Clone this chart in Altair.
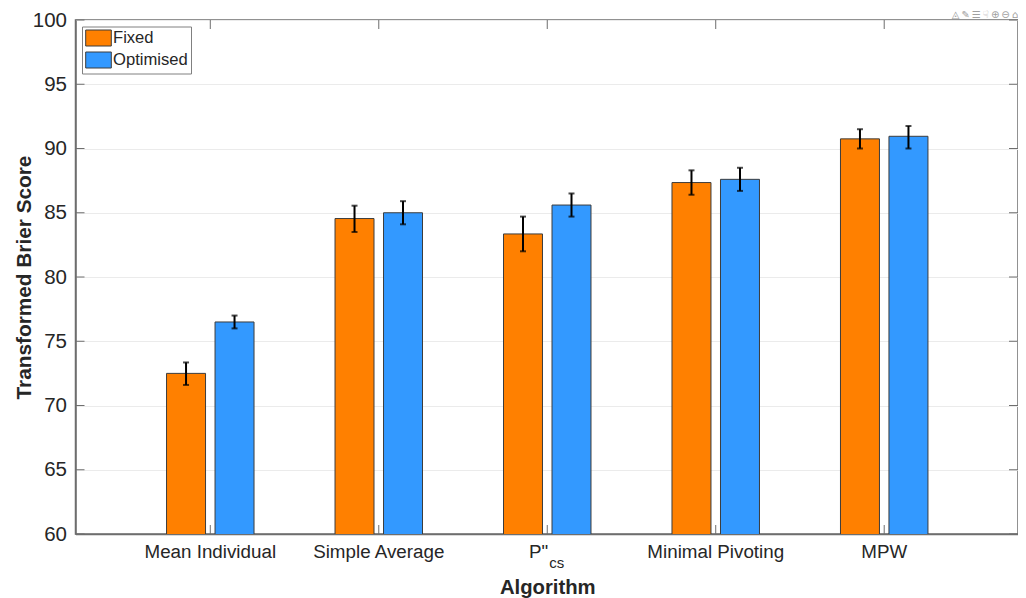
import altair as alt
import pandas as pd

categories = ["Mean Individual", "Simple Average", 'P"cs', "Minimal Pivoting", "MPW"]
series = ["Fixed", "Optimised"]
fixed = [72.5, 84.55, 83.35, 87.35, 90.75]
optimised = [76.5, 85.0, 85.6, 87.6, 90.95]
fixed_low = [71.6, 83.5, 82.0, 86.4, 90.0]
fixed_high = [73.35, 85.55, 84.7, 88.3, 91.5]
opt_low = [76.0, 84.1, 84.7, 86.7, 90.0]
opt_high = [77.0, 85.9, 86.5, 88.5, 91.75]
y_ticks = [60, 65, 70, 75, 80, 85, 90, 95, 100]
toolbar = "◬\u2009✎\u2009☰\u2009☟\u2009⊕\u2009⊖\u2009⌂"

W, H = 942.5, 514
FULL_W = 943.5
FONT = "Liberation Sans"
TXT = "#262626"
AX = "#6e6e6e"

rows = []
for i, c in enumerate(categories):
    rows.append(dict(cat=c, s="Fixed", v=fixed[i], lo=fixed_low[i], hi=fixed_high[i]))
    rows.append(dict(cat=c, s="Optimised", v=optimised[i], lo=opt_low[i], hi=opt_high[i]))
df = pd.DataFrame(rows)

xs = alt.Scale(domain=categories, paddingOuter=0.3, paddingInner=0, round=False, range=[0, FULL_W])
ys = alt.Scale(domain=[60, 100], nice=False)
offs = alt.Scale(domain=series, paddingInner=0.196, paddingOuter=0.835, round=False)

x = alt.X("cat:N", scale=xs, sort=categories, title="Algorithm",
          axis=alt.Axis(labelAngle=0, labelAlign="center", labelFont=FONT, labelFontSize=18.8, labelColor=TXT,
                        labelPadding=17, tickSize=0, domainColor=AX, domainWidth=1.5,
                        labelExpr="datum.value == 'P\"cs' ? '' : datum.label",
                        titleFont=FONT, titleFontSize=20.3, titleFontWeight="bold",
                        titleColor=TXT, titleY=59, titleBaseline="alphabetic"))
y = alt.Y("v:Q", scale=ys, title="Transformed Brier Score",
          axis=alt.Axis(values=y_ticks, labelFont=FONT, labelFontSize=20.5, labelColor=TXT,
                        labelPadding=9, tickSize=0, domainColor=AX, domainWidth=1.5,
                        gridColor="#ebebeb", gridWidth=1,
                        titleFont=FONT, titleFontSize=20.8, titleFontWeight="bold",
                        titleColor=TXT, titleX=-45, titleBaseline="alphabetic"))
xo = alt.XOffset("s:N", scale=offs, sort=series)

bars = alt.Chart(df).mark_bar(stroke="#3c3c3c", strokeWidth=1, clip=True).encode(
    x=x, y=y, xOffset=xo,
    color=alt.Color("s:N", scale=alt.Scale(domain=series, range=["#ff8000", "#3399ff"]),
                    legend=alt.Legend(
                        title=None, orient="none", legendX=6.5, legendY=6.5,
                        fillColor="white", strokeColor="#808080", padding=3,
                        symbolType="M-1.6,-1H1.6V1H-1.6Z", symbolSize=256, symbolOffset=5,
                        symbolStrokeColor="#3c3c3c", symbolStrokeWidth=1, symbolOpacity=1,
                        labelFont=FONT, labelFontSize=16.6, labelColor=TXT,
                        labelOffset=6, rowPadding=1, cornerRadius=0, offset=0)),
)
err = alt.Chart(df).mark_rule(color="black", strokeWidth=2).encode(
    x=alt.X("cat:N", scale=xs, sort=categories), xOffset=xo,
    y=alt.Y("lo:Q", scale=ys), y2="hi:Q")
cap_lo = alt.Chart(df).mark_tick(color="black", size=6, thickness=2).encode(
    x=alt.X("cat:N", scale=xs, sort=categories), xOffset=xo, y=alt.Y("lo:Q", scale=ys))
cap_hi = alt.Chart(df).mark_tick(color="black", size=6, thickness=2).encode(
    x=alt.X("cat:N", scale=xs, sort=categories), xOffset=xo, y=alt.Y("hi:Q", scale=ys))

tick_df = pd.DataFrame({"t": y_ticks})
cat_df = pd.DataFrame({"cat": categories})
tick_kw = dict(color=AX, strokeWidth=1)
yt_left = alt.Chart(tick_df).mark_rule(**tick_kw).encode(
    y=alt.Y("t:Q", scale=ys), x=alt.value(0), x2=alt.value(9))
yt_right = alt.Chart(tick_df).mark_rule(**tick_kw).encode(
    y=alt.Y("t:Q", scale=ys), x=alt.value(W - 9), x2=alt.value(W))
xt_bot = alt.Chart(cat_df).mark_rule(**tick_kw).encode(
    x=alt.X("cat:N", scale=xs, sort=categories), y=alt.value(H - 9), y2=alt.value(H))
xt_top = alt.Chart(cat_df).mark_rule(**tick_kw).encode(
    x=alt.X("cat:N", scale=xs, sort=categories), y=alt.value(0), y2=alt.value(9))

pcs = pd.DataFrame({"cat": ['P"cs']})
lab_main = alt.Chart(pcs).transform_calculate(t="'P\"'").mark_text(
    font=FONT, fontSize=18.8, color=TXT, align="right", baseline="alphabetic", dx=1).encode(
    x=alt.X("cat:N", scale=xs, sort=categories), y=alt.value(H + 24), text="t:N")
lab_sub = alt.Chart(pcs).transform_calculate(t="'cs'").mark_text(
    font=FONT, fontSize=15, color=TXT, align="left", baseline="alphabetic", dx=2).encode(
    x=alt.X("cat:N", scale=xs, sort=categories), y=alt.value(H + 34), text="t:N")
tool = alt.Chart(pd.DataFrame({"t": [toolbar]})).mark_text(
    font="DejaVu Sans", fontSize=10, color="#a0a0a0", align="right", baseline="middle").encode(
    x=alt.value(W), y=alt.value(-5.5), text="t:N")

chart = alt.layer(yt_left, yt_right, xt_bot, xt_top, bars, err, cap_lo, cap_hi, lab_main, lab_sub, tool).properties(
    width=W, height=H, background="white",
    autosize=alt.AutoSizeParams(type="none"),
    padding={"left": 67.5, "top": 12, "right": 0, "bottom": 64},
).configure_view(stroke=AX, strokeWidth=1.5)

chart.save("out.html", embed_options={"renderer": "svg", "actions": False})
